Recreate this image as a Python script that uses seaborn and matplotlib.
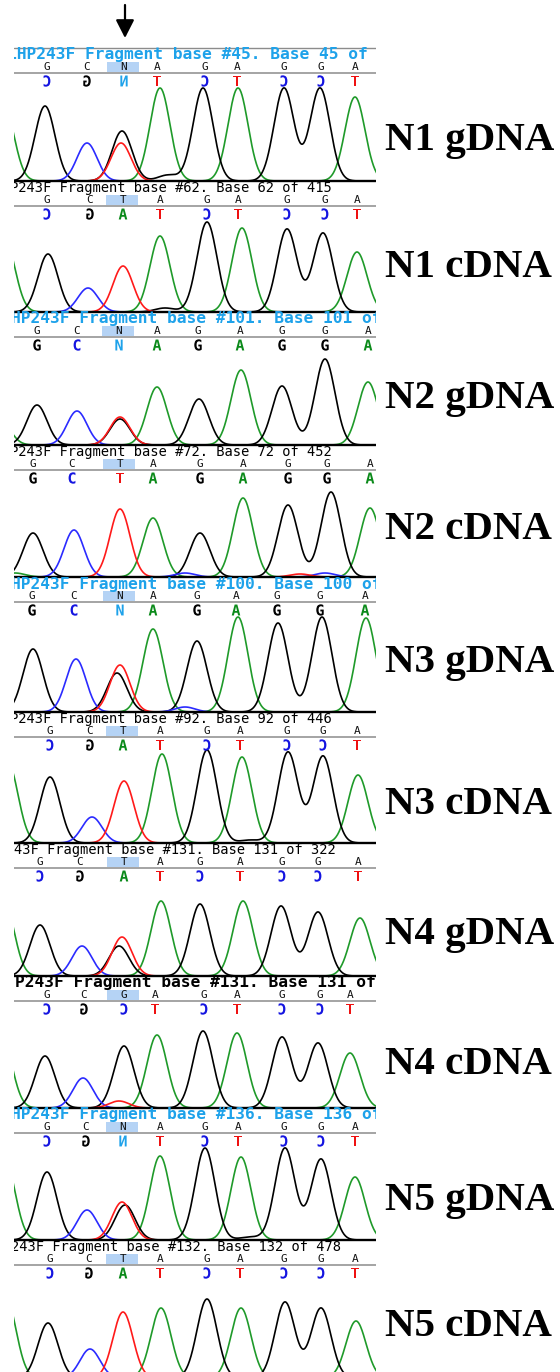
import numpy as np
import pandas as pd
import matplotlib
matplotlib.use("Agg")
import matplotlib.pyplot as plt
import seaborn as sns
from matplotlib.textpath import TextPath
from matplotlib.font_manager import FontProperties
from matplotlib.patches import PathPatch, Rectangle
from matplotlib.transforms import Affine2D

# ---------------- data ----------------
labels = ["N1 gDNA", "N1 cDNA", "N2 gDNA", "N2 cDNA", "N3 gDNA",
          "N3 cDNA", "N4 gDNA", "N4 cDNA", "N5 gDNA", "N5 cDNA"]

headers = [
    "LHP243F Fragment base #45. Base 45 of 4",
    "P243F Fragment base #62. Base 62 of 415",
    "HP243F Fragment base #101. Base 101 of",
    "P243F Fragment base #72. Base 72 of 452",
    "HP243F Fragment base #100. Base 100 of",
    "P243F Fragment base #92. Base 92 of 446",
    "43F Fragment base #131. Base 131 of 322",
    "P243F Fragment base #131. Base 131 of",
    "HP243F Fragment base #136. Base 136 of",
    "243F Fragment base #132. Base 132 of 478",
]
header_style = ["cyan", "plain", "cyan", "plain", "cyan",
                "plain", "plain", "bold", "cyan", "plain"]

ref_calls = ["GCNAGAGGA", "GCTAGAGGA", "GCNAGAGGA", "GCTAGAGGA", "GCNAGAGGA",
             "GCTAGAGGA", "GCTAGAGGA", "GCGAGAGGA", "GCNAGAGGA", "GCTAGAGGA"]
shown_calls = ["CGNTCTCCT", "CGATCTCCT", "GCNAGAGGA", "GCTAGAGGA", "GCNAGAGGA",
               "CGATCTCCT", "CGATCTCCT", "CGCTCTCCT", "CGNTCTCCT", "CGATCTCCT"]
mirrored = [True, True, False, False, False, True, True, True, True, True]

base_x = [
    [47, 87, 124, 157, 205, 237, 284, 321, 355],
    [47, 90, 123, 160, 207, 238, 287, 325, 357],
    [37, 77, 119, 157, 198, 240, 282, 325, 368],
    [33, 72, 120, 153, 200, 243, 288, 327, 370],
    [32, 74, 120, 153, 197, 236, 277, 320, 365],
    [50, 90, 123, 160, 207, 240, 287, 323, 357],
    [40, 80, 124, 160, 200, 240, 282, 318, 358],
    [47, 84, 124, 155, 204, 237, 282, 320, 350],
    [47, 86, 123, 160, 205, 238, 284, 321, 355],
    [50, 89, 123, 160, 207, 240, 284, 321, 355],
]

# trace peaks per panel: channel -> (position, height)
peaks = [
    {"G": [(45, 75), (122, 50), (203, 93), (284, 93), (320, 93), (168, 6)],
     "C": [(87, 38)], "T": [(121, 38)],
     "A": [(4, 75), (160, 93), (238, 93), (355, 84)]},
    {"G": [(48, 58), (207, 90), (287, 83), (323, 79), (165, 4)],
     "C": [(88, 24)], "T": [(123, 46)],
     "A": [(5, 72), (160, 76), (242, 84), (357, 60)]},
    {"G": [(37, 40), (120, 26), (199, 46), (282, 59), (325, 86)],
     "C": [(77, 34)], "T": [(120, 28)],
     "A": [(0, 25), (157, 58), (241, 75), (368, 63)]},
    {"G": [(33, 44), (200, 44), (288, 72), (331, 85)],
     "C": [(74, 47), (185, 4), (325, 4)], "T": [(120, 68), (300, 3)],
     "A": [(15, 4), (153, 59), (243, 79), (370, 69)]},
    {"G": [(33, 63), (117, 39), (197, 71), (278, 89), (322, 95)],
     "C": [(76, 53), (185, 5)], "T": [(120, 47)],
     "A": [(153, 83), (238, 95), (366, 94)]},
    {"G": [(50, 66), (207, 93), (288, 91), (323, 87), (250, 3)],
     "C": [(92, 26)], "T": [(124, 62)],
     "A": [(8, 80), (162, 89), (242, 86), (358, 68)]},
    {"G": [(40, 51), (119, 30), (200, 72), (281, 70), (318, 64)],
     "C": [(82, 30)], "T": [(122, 39)],
     "A": [(4, 75), (161, 75), (243, 75), (360, 58)]},
    {"G": [(45, 52), (124, 62), (203, 77), (282, 71), (318, 65)],
     "C": [(83, 30)], "T": [(119, 7)],
     "A": [(2, 70), (157, 73), (237, 75), (350, 55)]},
    {"G": [(47, 68), (125, 35), (205, 92), (285, 92), (321, 81), (250, 3)],
     "C": [(87, 30)], "T": [(122, 38)],
     "A": [(5, 80), (160, 84), (241, 83), (355, 63)]},
    {"G": [(48, 55), (207, 79), (285, 76), (321, 70)],
     "C": [(90, 29)], "T": [(123, 66)],
     "A": [(6, 80), (161, 70), (241, 70), (356, 57)]},
]

# ---------------- layout (pixels) ----------------
W, H = 560, 1372
X0, X1 = 14, 376
panel_top = [48, 181, 312, 445, 577, 712, 843, 976, 1108, 1240]
panel_base = panel_top[1:] + [1378]
header_x = [7, 10, 11, 10, 11, 10, 14, 15, 11, 11]
label_y = [136, 263, 394, 525, 658, 800, 930, 1060, 1196, 1322]
sigma = 10.0

trace_colors = {"G": "black", "C": "#2b2bff", "A": "#1f9a2a", "T": "#ff1a1a"}
call_colors = {"G": "black", "C": "#1414e0", "A": "#0b8a1a", "T": "#ee1111", "N": "#1ea2ea"}
cyan = "#1ea2ea"

sns.set_style("white")
fig = plt.figure(figsize=(W / 100, H / 100), dpi=100)

# traces
grid = np.arange(-20, 400, 0.5)
for i, pk in enumerate(peaks):
    top = panel_top[i] + 30
    bot = panel_base[i]
    ax = fig.add_axes([X0 / W, 1 - bot / H, (X1 - X0) / W, (bot - top) / H])
    rows = []
    for ch, lst in pk.items():
        sig = np.zeros_like(grid)
        for p, h in lst:
            sig += h * np.exp(-(grid - p) ** 2 / (2 * sigma ** 2))
        rows.append(pd.DataFrame({"x": grid, "signal": sig, "channel": ch}))
    df = pd.concat(rows, ignore_index=True)
    sns.lineplot(data=df, x="x", y="signal", hue="channel",
                 hue_order=["A", "G", "C", "T"], palette=trace_colors,
                 estimator=None, sort=False, legend=False, linewidth=1.2, ax=ax)
    ax.set_xlim(X0, X1)
    ax.set_ylim(0, bot - top)
    ax.axis("off")

# overlay in pixel coordinates
ov = fig.add_axes([X0 / W, 0, (X1 - X0) / W, 1])
ov.set_xlim(X0, X1)
ov.set_ylim(H, 0)
ov.axis("off")

mono_bold = FontProperties(family="DejaVu Sans Mono", weight="bold")


def big_letter(ch, x, y, color, flip):
    tp = TextPath((0, 0), ch, size=15, prop=mono_bold)
    ext = tp.get_extents()
    cx, cy = (ext.x0 + ext.x1) / 2, (ext.y0 + ext.y1) / 2
    tr = Affine2D().translate(-cx, -cy).scale(-1 if flip else 1, -1).translate(x, y)
    ov.add_patch(PathPatch(tr.transform_path(tp), fc=color, ec="none", lw=0))


for i in range(len(labels)):
    y0 = panel_top[i]
    # top rule
    if i == 0:
        ov.axhline(y0, color="#8c8c8c", lw=1.0)
    else:
        ov.axhline(y0, color="black", lw=1.7)
    # header
    st = header_style[i]
    if st == "plain":
        ov.text(header_x[i], y0 + 7, headers[i], family="DejaVu Sans Mono", fontsize=9.9,
                color="black", ha="left", va="center", clip_on=True)
    else:
        ov.text(header_x[i], y0 + 7, headers[i], family="DejaVu Sans Mono", fontsize=11.7,
                fontweight="bold", color=cyan if st == "cyan" else "black",
                ha="left", va="center", clip_on=True)
    # highlight of the variant position
    bx = base_x[i]
    ov.add_patch(Rectangle((bx[2] - 17, y0 + 14), 32, 10, fc="#b5d3f5", ec="none"))
    # reference letters and rule
    for ch, x in zip(ref_calls[i], bx):
        ov.text(x, y0 + 19, ch, family="DejaVu Sans Mono", fontsize=8,
                color="#111111", ha="center", va="center")
    ov.axhline(y0 + 25, color="#8c8c8c", lw=1.1)
    # base calls
    for ch, x in zip(shown_calls[i], bx):
        big_letter(ch, x, y0 + 33, call_colors[ch], mirrored[i] and ch in "CGN")
    # sample label
    fig.text(385 / W, 1 - (label_y[i] + 14) / H, labels[i], family="Liberation Serif",
             fontweight="bold", fontsize=29.5, color="black", ha="left", va="baseline")

# arrow over the variant column
ov.annotate("", xy=(125, 38), xytext=(125, 5),
            arrowprops=dict(arrowstyle="-|>,head_length=0.55,head_width=0.28",
                            color="black", lw=1.6, mutation_scale=20,
                            shrinkA=0, shrinkB=0))

fig.savefig("out.png", dpi=100, facecolor="white")
